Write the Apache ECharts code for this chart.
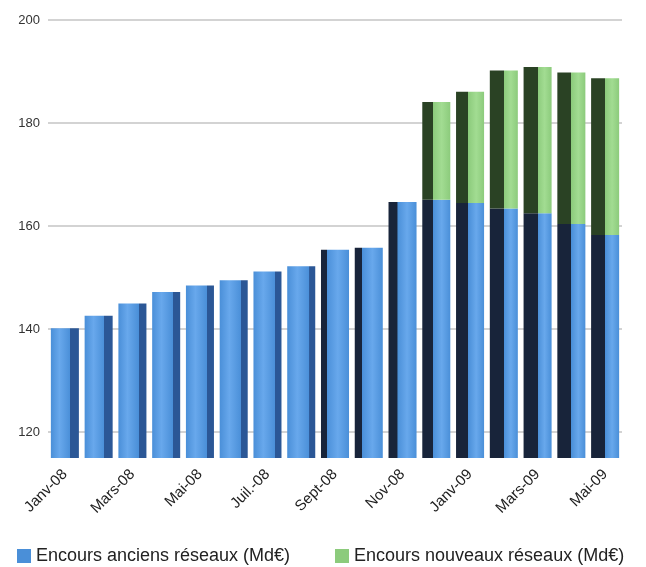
<!DOCTYPE html>
<html>
<head>
<meta charset="utf-8">
<script src="https://cdn.jsdelivr.net/npm/echarts@6/dist/echarts.min.js"></script>
<style>
html,body{margin:0;padding:0;background:#fff;}
#c{width:646px;height:567px;}
</style>
</head>
<body>
<div id="c"></div>
<script>
var categories = ['Janv-08','Févr-08','Mars-08','Avr-08','Mai-08','Juin-08','Juil.-08','Août-08','Sept-08','Oct-08','Nov-08','Déc-08','Janv-09','Févr-09','Mars-09','Avr-09','Mai-09'];
var ancienValues = [140.2, 142.6, 145.0, 147.2, 148.5, 149.5, 151.2, 152.2, 155.4, 155.8, 164.7, 165.1, 164.5, 163.4, 162.5, 160.4, 158.3];
var nouveauValues = [null, null, null, null, null, null, null, null, null, null, null, 19.0, 21.6, 26.8, 28.4, 29.4, 30.4];
var gridValues = [120, 140, 160, 180, 200];
var seriesNames = ['Encours anciens réseaux (Md€)', 'Encours nouveaux réseaux (Md€)'];

function sideFrac(i) {
  if (i < 8) return { left: false, f: 0.31 - 0.015 * i };
  return { left: true, f: Math.min(0.5, 0.2 + 0.06 * (i - 8)) };
}
function barColor(front, hi, sideL, sideR) {
  return function (p) {
    var s = sideFrac(p.dataIndex);
    var stops;
    if (!s.left) {
      var e = 1 - s.f;
      stops = [
        { offset: 0, color: front },
        { offset: e * 0.45, color: hi },
        { offset: e - 0.001, color: front },
        { offset: e, color: sideR },
        { offset: 1, color: sideR }
      ];
    } else {
      var b = s.f;
      stops = [
        { offset: 0, color: sideL },
        { offset: b, color: sideL },
        { offset: b + 0.001, color: front },
        { offset: b + (1 - b) * 0.5, color: hi },
        { offset: 1, color: front }
      ];
    }
    return new echarts.graphic.LinearGradient(0, 0, 1, 0, stops);
  };
}

var chart = echarts.init(document.getElementById('c'), null, { renderer: 'canvas' });
chart.setOption({
  backgroundColor: '#ffffff',
  animation: false,
  grid: { left: 48, right: 24, top: 20, bottom: 109, containLabel: false },
  legend: [
    {
      data: [{ name: seriesNames[0], itemStyle: { color: '#4a8fd8' } }],
      left: 12, top: 542, itemWidth: 14, itemHeight: 14, icon: 'rect',
      textStyle: { fontFamily: 'Liberation Sans, Arial, sans-serif', fontSize: 18, color: '#222' }
    },
    {
      data: [{ name: seriesNames[1], itemStyle: { color: '#8ccb7c' } }],
      left: 330, top: 542, itemWidth: 14, itemHeight: 14, icon: 'rect',
      textStyle: { fontFamily: 'Liberation Sans, Arial, sans-serif', fontSize: 18, color: '#222' }
    }
  ],
  xAxis: {
    type: 'category',
    data: categories,
    axisLine: { show: false },
    axisTick: { show: false },
    axisLabel: {
      interval: 1,
      rotate: 45,
      margin: 14,
      fontFamily: 'Liberation Sans, Arial, sans-serif',
      fontSize: 15,
      color: '#222'
    }
  },
  yAxis: {
    type: 'value',
    min: 115,
    max: 200,
    interval: 5,
    axisLine: { show: false },
    axisTick: { show: false },
    splitLine: { show: false },
    axisLabel: {
      margin: 8,
      fontFamily: 'Liberation Sans, Arial, sans-serif',
      fontSize: 13,
      color: '#333',
      formatter: function (v) { return gridValues.indexOf(v) >= 0 ? String(v) : ''; }
    }
  },
  series: [
    {
      name: seriesNames[0],
      type: 'bar',
      stack: 'total',
      data: ancienValues,
      barCategoryGap: '17%',
      z: 3,
      itemStyle: { color: barColor('#4a8fd8', '#68a8ec', '#18243a', '#2b5796') },
      markLine: {
        silent: true,
        z: 1,
        symbol: 'none',
        label: { show: false },
        lineStyle: { color: '#c4c4c4', type: 'solid', width: 1.5 },
        data: gridValues.map(function (v) { return { yAxis: v }; })
      }
    },
    {
      name: seriesNames[1],
      type: 'bar',
      stack: 'total',
      data: nouveauValues,
      z: 3,
      itemStyle: { color: barColor('#8ccb7c', '#a2dc92', '#2a4224', '#3f6a35') }
    }
  ]
});
</script>
</body>
</html>
